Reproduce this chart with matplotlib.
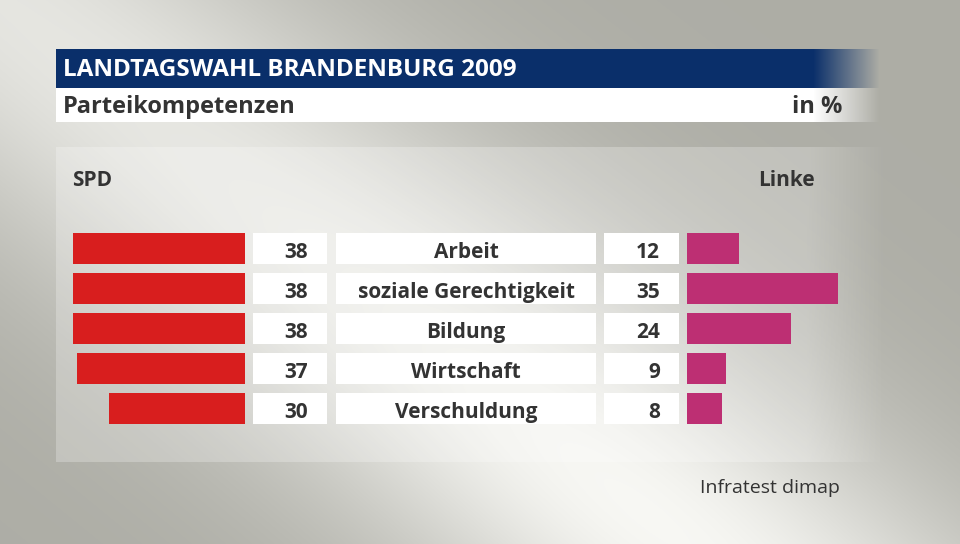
import numpy as np
import matplotlib
matplotlib.use("Agg")
import matplotlib.pyplot as plt
from matplotlib.patches import Rectangle

plt.rcParams['font.family'] = ['Open Sans', 'DejaVu Sans']

# data
categories = ["Arbeit", "soziale Gerechtigkeit", "Bildung", "Wirtschaft", "Verschuldung"]
spd = [38, 38, 38, 37, 30]
linke = [12, 35, 24, 9, 8]

title = "LANDTAGSWAHL BRANDENBURG 2009"
subtitle = "Parteikompetenzen"
unit = "in %"
left_party = "SPD"
right_party = "Linke"
source = "Infratest dimap"

# colours
RED = "#d81e1e"
MAGENTA = "#bd2f73"
BLUE = "#0a2f6a"
TXT = "#333333"

W, H = 960, 544
fig = plt.figure(figsize=(W / 100, H / 100), dpi=100)
ax = fig.add_axes([0, 0, 1, 1])
ax.set_xlim(0, W)
ax.set_ylim(H, 0)
ax.axis("off")

# background: light diagonal band on grey
yy, xx = np.mgrid[0:H, 0:W]
d = np.abs(-0.62 * xx + 0.78 * yy)
light = np.exp(-(d / 190.0) ** 2)
light *= 0.75 + 0.25 * np.exp(-(((xx - 650) ** 2 + (yy - 510) ** 2) / 400.0 ** 2))
grey = np.array([0.68, 0.68, 0.65])
white = np.array([0.97, 0.97, 0.955])
bg = grey + (white - grey) * light[..., None]
ax.imshow(bg, extent=(0, W, H, 0), zorder=0, aspect="auto")

# panel behind the chart, fading out on the right
px = np.arange(56, 886)
alpha = np.clip((886 - px) / 80.0, 0, 1) * 0.25
panel = np.ones((1, len(px), 4))
panel[0, :, 3] = alpha
ax.imshow(panel, extent=(56, 886, 462, 147), zorder=1, aspect="auto")

# header bars with fade on the right
fade = np.linspace(1, 0, 67)
ax.add_patch(Rectangle((56, 49), 757, 39, facecolor=BLUE, edgecolor="none", zorder=2))
ax.add_patch(Rectangle((56, 88), 757, 34, facecolor="white", edgecolor="none", zorder=2))
for i, a in enumerate(fade):
    ax.add_patch(Rectangle((813 + i, 49), 1.05, 39, facecolor=BLUE, alpha=a,
                           edgecolor="none", zorder=2))
    ax.add_patch(Rectangle((813 + i, 88), 1.05, 34, facecolor="white", alpha=a,
                           edgecolor="none", zorder=2))

ax.text(63, 76, title, color="white", fontsize=17.5, fontweight="bold",
        va="baseline", ha="left", zorder=3)
ax.text(63, 113, subtitle, color=TXT, fontsize=17, fontweight="bold",
        va="baseline", ha="left", zorder=3)
ax.text(842, 113, unit, color=TXT, fontsize=17, fontweight="bold",
        va="baseline", ha="right", zorder=3)

ax.text(72, 186, left_party, color=TXT, fontsize=15, fontweight="bold",
        va="baseline", ha="left", zorder=3)
ax.text(815, 186, right_party, color=TXT, fontsize=15, fontweight="bold",
        va="baseline", ha="right", zorder=3)

# rows
y0, step, bh = 248.5, 40, 31
ys = [y0 + i * step for i in range(len(categories))]
scale_l, scale_r = 4.53, 4.32
x_left_end, x_right_start = 245, 687

ax.barh(ys, [-v * scale_l for v in spd], left=x_left_end, height=bh,
        color=RED, edgecolor="none", zorder=3)
ax.barh(ys, [v * scale_r for v in linke], left=x_right_start, height=bh,
        color=MAGENTA, edgecolor="none", zorder=3)

for y, cat, a, b in zip(ys, categories, spd, linke):
    for x0, x1 in [(253, 327), (336, 596), (604, 679)]:
        ax.add_patch(Rectangle((x0, y - bh / 2), x1 - x0, bh, facecolor="white",
                               edgecolor="none", zorder=3))
    base = y + 9.5
    ax.text(308, base, str(a), color=TXT, fontsize=15, fontweight="bold",
            va="baseline", ha="right", zorder=4)
    ax.text(466, base, cat, color=TXT, fontsize=15, fontweight="bold",
            va="baseline", ha="center", zorder=4)
    ax.text(660, base, str(b), color=TXT, fontsize=15, fontweight="bold",
            va="baseline", ha="right", zorder=4)

ax.text(840, 493, source, color=TXT, fontsize=14, va="baseline", ha="right", zorder=3)

fig.savefig("out.png", dpi=100)
